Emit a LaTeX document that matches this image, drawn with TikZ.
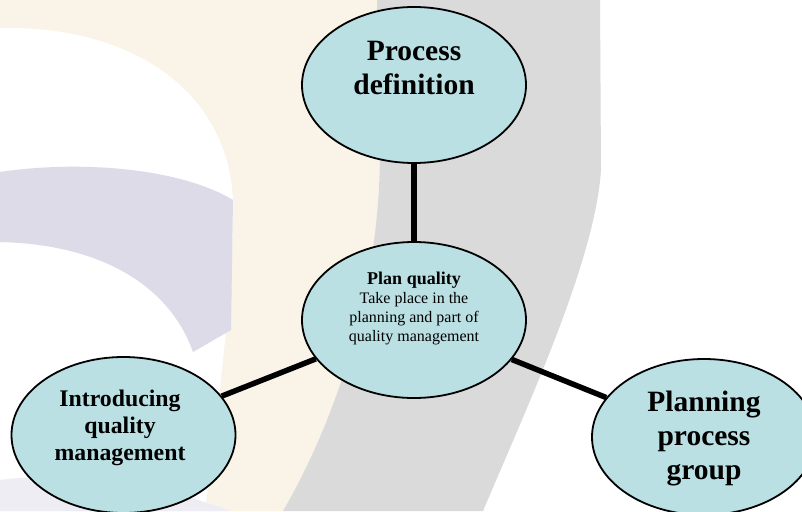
\documentclass[tikz,border=0pt]{standalone}
\usepackage{fontspec}
\setmainfont{Liberation Serif}
\usetikzlibrary{shapes.geometric}
\definecolor{bgcream}{HTML}{FAF3E7}
\definecolor{bglav}{HTML}{DCDBE7}
\definecolor{bggrey}{HTML}{DBDADA}
\definecolor{nodefill}{HTML}{BAE0E3}
\tikzset{
  bubble/.style={ellipse, draw=black, line width=1.8pt, fill=nodefill,
    minimum width=224pt, minimum height=156pt, inner sep=0pt},
  conn/.style={line width=5.5pt, draw=black},
  bigtxt/.style={align=center, inner sep=0pt, font=\fontsize{29.5}{34}\selectfont\bfseries},
  midtxt/.style={align=center, inner sep=0pt, font=\fontsize{23.8}{27}\selectfont\bfseries},
  smalltxt/.style={align=center, inner sep=0pt, font=\fontsize{16}{18.8}\selectfont}
}
\begin{document}
\begin{tikzpicture}[x=1pt,y=-1pt]
\useasboundingbox (0,0) rectangle (802,511);
% background watermark
\fill[white] (0,0) rectangle (802,511);
\fill[bgcream] (0,0) -- (378,0) -- (380,150) .. controls (380,300) and (330,430) .. (283,511) -- (0,511) -- cycle;
\fill[bggrey] (377,0) -- (600,0) -- (601,170) .. controls (595,260) and (530,400) .. (483,511) -- (283,511) .. controls (330,430) and (380,300) .. (380,150) -- cycle;
\fill[white] (0,28) .. controls (130,25) and (228,90) .. (233,200) .. controls (234,270) and (222,380) .. (205,511) -- (0,511) -- cycle;
\fill[bglav] (0,172) .. controls (80,160) and (180,168) .. (233,200) -- (231,330) -- (193,352) .. controls (175,300) and (120,245) .. (0,242) -- cycle;
\fill[bglav!50] (0,480) .. controls (60,472) and (150,480) .. (230,511) -- (0,511) -- cycle;
% nodes
\node[bubble] (pd) at (414,85) {};
\node[bubble] (pq) at (414,320) {};
\node[bubble] (iq) at (123.5,435) {};
\node[bubble] (pp) at (704,437) {};
% connectors
\draw[conn] (pd) -- (pq);
\draw[conn] (pq) -- (iq);
\draw[conn] (pq) -- (pp);
% texts
\node[bigtxt] (pdt) at (414,68) {Process\\definition};
\node[smalltxt] (pqt) at (414,308.5) {{\fontsize{18}{20}\selectfont\bfseries Plan quality}\\Take place in the\\planning and part of\\quality management};
\node[midtxt] (iqt) at (120,428) {Introducing\\quality\\management};
\node[bigtxt] (ppt) at (704,439) {Planning\\process\\group};
\end{tikzpicture}
\end{document}
